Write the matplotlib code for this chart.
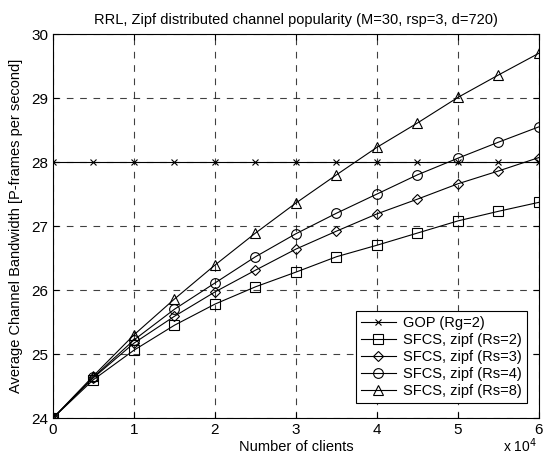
import numpy as np
import matplotlib.pyplot as plt

plt.rcParams['font.family'] = ['Liberation Sans', 'DejaVu Sans']

# clients (in units of 10^4)
clients = [0, 0.5, 1, 1.5, 2, 2.5, 3, 3.5, 4, 4.5, 5, 5.5, 6]

gop_rg2 = [28] * 13
sfcs_rs2 = [24.0, 24.60, 25.06, 25.45, 25.78, 26.05, 26.28, 26.52, 26.70, 26.89, 27.08, 27.23, 27.37]
sfcs_rs3 = [24.0, 24.63, 25.17, 25.59, 25.97, 26.31, 26.64, 26.92, 27.19, 27.42, 27.66, 27.86, 28.07]
sfcs_rs4 = [24.0, 24.64, 25.22, 25.70, 26.11, 26.52, 26.88, 27.20, 27.50, 27.80, 28.06, 28.31, 28.55]
sfcs_rs8 = [24.0, 24.66, 25.30, 25.86, 26.39, 26.89, 27.36, 27.80, 28.23, 28.61, 29.01, 29.36, 29.70]

series = [
    (gop_rg2, 'x', 'GOP (Rg=2)'),
    (sfcs_rs2, 's', 'SFCS, zipf (Rs=2)'),
    (sfcs_rs3, 'D', 'SFCS, zipf (Rs=3)'),
    (sfcs_rs4, 'o', 'SFCS, zipf (Rs=4)'),
    (sfcs_rs8, '^', 'SFCS, zipf (Rs=8)'),
]

fig = plt.figure(figsize=(5.43, 4.57), dpi=100)
ax = fig.add_axes([0.0976, 0.0853, 0.895, 0.8403])

for vals, m, lab in series:
    ms = {'x': 4, 'D': 5.5}.get(m, 7)
    ax.plot(clients, vals, color='black', lw=0.8, marker=m, ms=ms,
            mfc='none', mec='black', mew=0.8, label=lab)

ax.set_xlim(0, 6)
ax.set_ylim(24, 30)
ax.set_xticks(range(7))
ax.set_yticks(range(24, 31))
ax.grid(True, color='black', ls=(0, (6, 6)), lw=0.8, alpha=0.75)
ax.tick_params(direction='in', top=True, right=True, labelsize=11, length=4)
for s in ax.spines.values():
    s.set_linewidth(0.8)

ax.set_title('RRL, Zipf distributed channel popularity (M=30, rsp=3, d=720)', fontsize=10.5, pad=7)
ax.set_xlabel('Number of clients', fontsize=10.5, labelpad=2)
ax.set_ylabel('Average Channel Bandwidth [P-frames per second]', fontsize=10.5, labelpad=6)
ax.text(0.995, -0.088, r'x 10$^4$', transform=ax.transAxes, ha='right', va='baseline', fontsize=10)

leg = ax.legend(loc='lower right', bbox_to_anchor=(0.99, 0.02), fontsize=10.5,
                fancybox=False, edgecolor='black', framealpha=1,
                handlelength=2.4, borderpad=0.35, labelspacing=0.2, handletextpad=0.5)
leg.get_frame().set_linewidth(0.8)

fig.savefig('out.png', dpi=100)
